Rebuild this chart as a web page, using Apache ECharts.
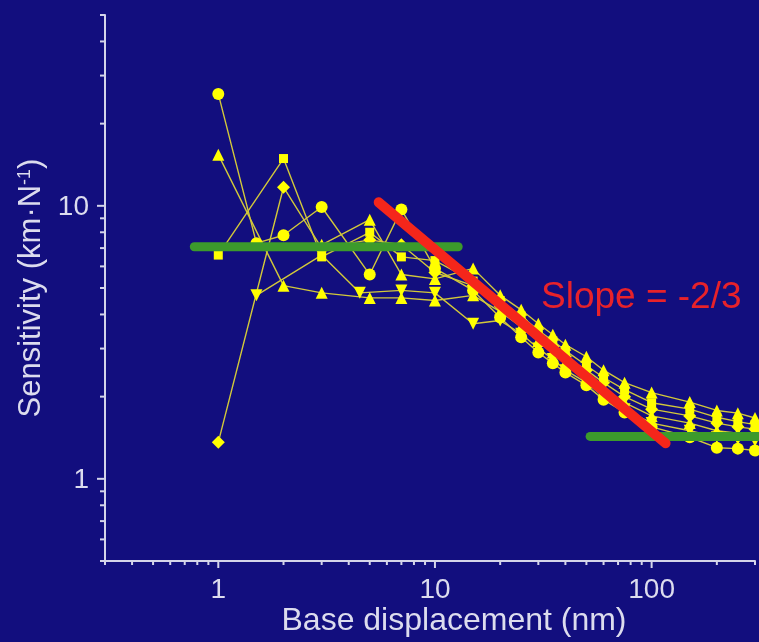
<!DOCTYPE html>
<html>
<head>
<meta charset="utf-8">
<script src="https://cdn.jsdelivr.net/npm/echarts@6/dist/echarts.min.js"></script>
<style>
  html, body { margin: 0; padding: 0; background: #120e7e; }
  #chart { width: 759px; height: 642px; }
</style>
</head>
<body>
<div id="chart"></div>
<script>
// Axis ranges and tick marks (log-log)
const xRange = [0.3, 300];
const yRange = [0.5, 50];
const xMajorTicks = [1, 10, 100];
const xTickLabels = ['1', '10', '100'];
const xMinorTicks = [0.3, 0.4, 0.5, 0.6, 0.7, 0.8, 0.9, 2, 3, 4, 5, 6, 7, 8, 9,
                     20, 30, 40, 50, 60, 70, 80, 90, 200, 300];
const yMajorTicks = [1, 10];
const yTickLabels = ['1', '10'];
const yMinorTicks = [0.5, 0.6, 0.7, 0.8, 0.9, 2, 3, 4, 5, 6, 7, 8, 9, 20, 30, 40, 50];

// Sensitivity vs. base displacement, one record per bundle
const circleX   = [1, 1.5, 2, 3, 5, 7, 10, 15, 20, 25, 30, 35, 40, 50, 60, 75, 100, 150, 200, 250, 300];
const circleY   = [25.7, 7.3, 7.8, 9.9, 5.6, 9.7, 5.9, 4.9, 3.9, 3.3, 2.9, 2.65, 2.45, 2.2, 1.95, 1.75, 1.55, 1.42, 1.3, 1.29, 1.27];
const triangleX = [1, 2, 3, 5, 7, 10, 15, 20, 25, 30, 35, 40, 50, 60, 75, 100, 150, 200, 250, 300];
const triangleY = [15.4, 5.1, 4.8, 4.6, 4.6, 4.5, 4.7, 4.1, 3.6, 3.2, 2.9, 2.65, 2.35, 2.1, 1.9, 1.7, 1.6, 1.5, 1.47, 1.45];
const squareX   = [1, 2, 3, 5, 7, 10, 15, 20, 25, 30, 35, 40, 50, 60, 75, 100, 150, 200, 250, 300];
const squareY   = [6.6, 14.9, 6.5, 8.0, 6.5, 6.3, 5.3, 4.5, 3.95, 3.5, 3.2, 2.95, 2.6, 2.35, 2.12, 1.9, 1.8, 1.68, 1.62, 1.58];
const diamondX  = [1, 2, 3, 5, 7, 10, 15, 20, 25, 30, 35, 40, 50, 60, 75, 100, 150, 200, 250, 300];
const diamondY  = [1.36, 11.7, 7.0, 7.5, 7.2, 5.7, 5.1, 4.3, 3.8, 3.35, 3.05, 2.8, 2.5, 2.25, 2.0, 1.8, 1.7, 1.6, 1.55, 1.52];
const invTriX   = [1.5, 3, 4.5, 7, 10, 15, 20, 25, 30, 35, 40, 50, 60, 75, 100, 150, 200, 250, 300];
const invTriY   = [4.7, 6.6, 4.8, 4.9, 4.8, 3.7, 3.8, 3.4, 3.0, 2.75, 2.5, 2.25, 2.0, 1.8, 1.6, 1.5, 1.42, 1.4, 1.38];
const upperX    = [3, 5, 7, 10, 15, 20, 25, 30, 35, 40, 50, 60, 75, 100, 150, 200, 250, 300];
const upperY    = [7.2, 8.9, 5.6, 5.4, 5.9, 4.7, 4.16, 3.7, 3.37, 3.1, 2.8, 2.5, 2.25, 2.07, 1.91, 1.78, 1.74, 1.67];

// Reference lines: two plateaus and the power-law fit
const plateauLowX  = [0.775, 12.8];
const plateauLowY  = [7.08, 7.08];
const plateauHighX = [52, 330];
const plateauHighY = [1.43, 1.43];
const fitX = [5.5, 116];
const fitY = [10.3, 1.35];

const TEXT = '#dcdcee';
const AXIS = '#d4d4ea';
const FONT = '"Liberation Sans", Arial, Helvetica, sans-serif';

const zip = (xs, ys) => xs.map((x, i) => [x, ys[i]]);

function dataSeries(name, xs, ys, symbol, size, rotate) {
  return {
    name, type: 'line', data: zip(xs, ys),
    symbol, symbolSize: size, symbolRotate: rotate || 0,
    showAllSymbol: true,
    itemStyle: { color: '#ffff00', borderWidth: 0 },
    lineStyle: { color: '#d2c83a', width: 1.4 },
    z: 3, silent: true
  };
}

function refLine(xs, ys, color, width, z) {
  return {
    type: 'line', data: zip(xs, ys), symbol: 'none', clip: false,
    lineStyle: { color, width, cap: 'round' }, z, silent: true
  };
}

// Tick marks drawn through the axis scales
function tickSeries(axis, values, len, labels) {
  const data = values.map(v => axis === 'x' ? [v, yRange[0]] : [xRange[0], v]);
  return {
    type: 'custom', clip: false, silent: true, z: 5,
    data,
    renderItem(params, api) {
      const p = api.coord([api.value(0), api.value(1)]);
      const children = [];
      if (axis === 'x') {
        children.push({ type: 'line', shape: { x1: p[0], y1: p[1], x2: p[0], y2: p[1] + len },
                        style: { stroke: AXIS, lineWidth: 2 } });
        if (labels) children.push({ type: 'text', style: { text: labels[params.dataIndex], x: p[0], y: p[1] + 29,
                        fill: TEXT, font: '28px ' + FONT, align: 'center', verticalAlign: 'middle' } });
      } else {
        children.push({ type: 'line', shape: { x1: p[0], y1: p[1], x2: p[0] - len, y2: p[1] },
                        style: { stroke: AXIS, lineWidth: 2 } });
        if (labels) children.push({ type: 'text', style: { text: labels[params.dataIndex], x: p[0] - 16, y: p[1] + 1,
                        fill: TEXT, font: '28px ' + FONT, align: 'right', verticalAlign: 'middle' } });
      }
      return { type: 'group', children };
    }
  };
}

const chart = echarts.init(document.getElementById('chart'), null, { renderer: 'canvas' });
chart.setOption({
  animation: false,
  backgroundColor: '#120e7e',
  grid: { left: 105, right: 4, top: 15, bottom: 80 },
  xAxis: {
    type: 'log', logBase: 10, min: xRange[0], max: xRange[1],
    name: 'Base displacement (nm)', nameLocation: 'middle', nameGap: 44,
    nameTextStyle: { color: TEXT, fontSize: 32, fontFamily: FONT, padding: [0, 0, 0, 48] },
    axisLine: { show: true, lineStyle: { color: AXIS, width: 2 } },
    axisTick: { show: false }, axisLabel: { show: false }, splitLine: { show: false }
  },
  yAxis: {
    type: 'log', logBase: 10, min: yRange[0], max: yRange[1],
    name: '{a|Sensitivity (km·N}{s|-1}{a|)}', nameLocation: 'middle', nameGap: 58, nameRotate: 90,
    nameTextStyle: {
      color: TEXT, fontSize: 31, fontFamily: FONT,
      rich: {
        a: { color: TEXT, fontSize: 31, fontFamily: FONT },
        s: { color: TEXT, fontSize: 18, fontFamily: FONT, padding: [0, 0, 12, 0] }
      }
    },
    axisLine: { show: true, lineStyle: { color: AXIS, width: 2 } },
    axisTick: { show: false }, axisLabel: { show: false }, splitLine: { show: false }
  },
  graphic: [{
    type: 'text', x: 541, y: 298, z: 10,
    style: { text: 'Slope = -2/3', fill: '#e8222a', font: '37px ' + FONT, verticalAlign: 'middle' }
  }],
  series: [
    dataSeries('circle', circleX, circleY, 'circle', 12),
    dataSeries('triangle', triangleX, triangleY, 'triangle', 12),
    dataSeries('square', squareX, squareY, 'rect', 9),
    dataSeries('diamond', diamondX, diamondY, 'diamond', 13),
    dataSeries('inverted', invTriX, invTriY, 'triangle', 12, 180),
    dataSeries('upper', upperX, upperY, 'triangle', 12),
    refLine(plateauLowX, plateauLowY, '#3c9a2c', 9, 6),
    refLine(plateauHighX, plateauHighY, '#3c9a2c', 9, 6),
    refLine(fitX, fitY, '#f5261b', 10, 7),
    tickSeries('x', xMajorTicks, 7, xTickLabels),
    tickSeries('x', xMinorTicks, 4),
    tickSeries('y', yMajorTicks, 8, yTickLabels),
    tickSeries('y', yMinorTicks, 5)
  ]
});
</script>
</body>
</html>
